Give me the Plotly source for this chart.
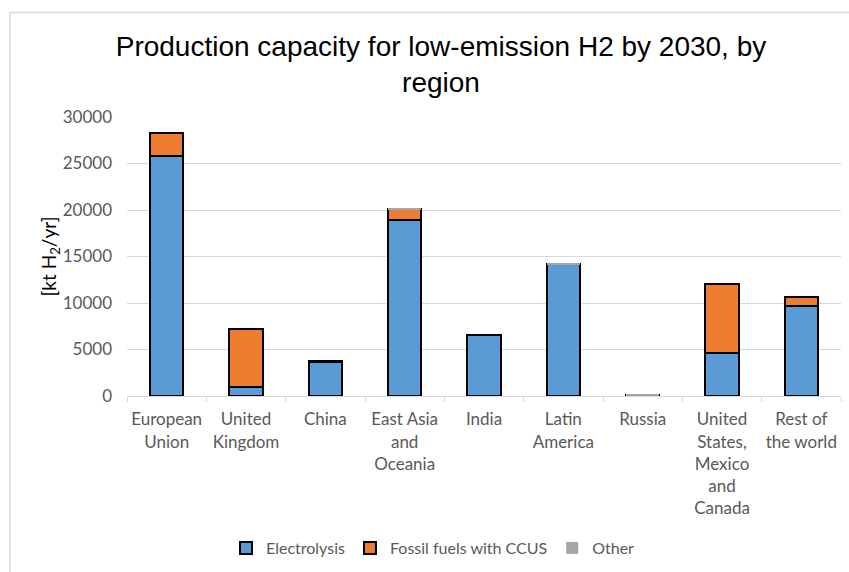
import plotly.graph_objects as go

# Regions (category labels, wrapped over several lines)
regions = [
    "European<br>Union",
    "United<br>Kingdom",
    "China",
    "East Asia<br>and<br>Oceania",
    "India",
    "Latin<br>America",
    "Russia",
    "United<br>States,<br>Mexico<br>and<br>Canada",
    "Rest of<br>the world",
]

# Production capacity by 2030 [kt H2/yr]
electrolysis = [25800, 1000, 3650, 18900, 6550, 14150, 90, 4600, 9700]
fossil_ccus = [2500, 6200, 70, 1200, 60, 0, 0, 7400, 900]
other = [0, 0, 0, 60, 0, 100, 30, 0, 0]

y_ticks = [0, 5000, 10000, 15000, 20000, 25000, 30000]
y_tick_labels = ["0", "5000", "10000", "15000", "20000", "25000", "30000"]

W, H = 849, 572
M_L, M_R, M_T, M_B = 127, 8, 117, 175

TICK_FONT = dict(family="Lato, Carlito, Calibri, sans-serif", size=17, color="#595959")
LEGEND_FONT = dict(family="Lato, Carlito, Calibri, sans-serif", size=16, color="#595959")
GRID = "#D9D9D9"

fig = go.Figure()
fig.add_trace(go.Bar(
    name="Electrolysis", x=regions, y=electrolysis,
    marker=dict(color="#5B9BD5", line=dict(color="#000000", width=2)),
))
fig.add_trace(go.Bar(
    name="Fossil fuels with CCUS", x=regions, y=fossil_ccus,
    marker=dict(color="#ED7D31", line=dict(color="#000000", width=2)),
))
fig.add_trace(go.Bar(
    name="Other", x=regions, y=other,
    marker=dict(color="#A5A5A5", line=dict(width=0)),
))

# Light frame around the chart (top and left edges visible)
pw = W - M_L - M_R
ph = H - M_T - M_B
fig.add_shape(
    type="rect", xref="paper", yref="paper",
    x0=(10 - M_L) / pw, x1=(W + 30 - M_L) / pw,
    y0=-(H + 30 - M_T - ph) / ph, y1=(H - 12 - M_B) / ph,
    line=dict(color=GRID, width=1.5), layer="below",
)

fig.update_layout(
    width=W, height=H,
    margin=dict(l=M_L, r=M_R, t=M_T, b=M_B),
    paper_bgcolor="white", plot_bgcolor="white",
    barmode="stack", bargap=0.58,
    title=dict(
        text="Production capacity for low-emission H2 by 2030, by<br>region",
        font=dict(family="Liberation Sans, Arial, sans-serif", size=28, color="#000000"),
        x=441 / W, xref="container", xanchor="center",
        y=1 - 56 / H, yref="container", yanchor="top",
    ),
    legend=dict(
        orientation="h", x=(433 - M_L) / pw, xanchor="center",
        y=-(548 - (H - M_B)) / ph, yanchor="middle",
        font=LEGEND_FONT, traceorder="normal",
    ),
    showlegend=True,
)

fig.update_xaxes(
    type="category", tickfont=TICK_FONT, tickangle=0,
    showline=True, linecolor=GRID, linewidth=1,
    ticks="outside", tickson="boundaries", ticklen=5, tickcolor=GRID,
    ticklabelstandoff=8,
    showgrid=False,
)
fig.update_yaxes(
    range=[0, 30000], tickvals=y_ticks, ticktext=y_tick_labels, tickfont=TICK_FONT,
    showgrid=True, gridcolor=GRID, gridwidth=1,
    showline=False, ticks="", zeroline=False,
    ticklabelstandoff=14,
    title=dict(
        text="[kt H<sub>2</sub>/yr]",
        font=dict(family="Lato, Carlito, Calibri, sans-serif", size=19, color="#000000"),
        standoff=0,
    ),
)

fig.write_html("out.html")
